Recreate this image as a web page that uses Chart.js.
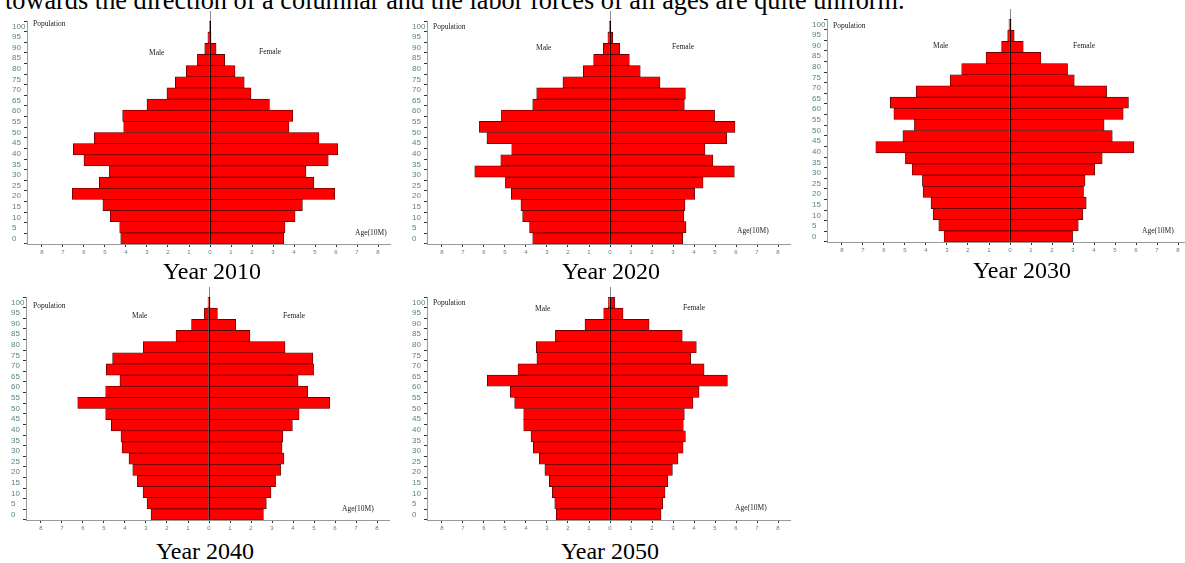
<!DOCTYPE html>
<html><head><meta charset="utf-8">
<script src="https://cdn.jsdelivr.net/npm/chart.js@4.4.1/dist/chart.umd.min.js"></script>
<style>
html,body{margin:0;padding:0;background:#fff;}
body{width:1185px;height:563px;position:relative;overflow:hidden;font-family:'Liberation Serif','Times New Roman',serif;}
.topline{position:absolute;left:5px;top:-12px;font-size:26.3px;white-space:nowrap;color:#000;line-height:26px;}
.panel{position:absolute;width:395px;height:262px;}
.panel canvas{position:absolute;left:0;top:0;}
.ann{position:absolute;font-size:7.5px;color:#222;white-space:nowrap;line-height:8px;}
.cap{position:absolute;font-size:24px;white-space:nowrap;line-height:24px;transform:translateX(-50%);color:#000;}
</style></head>
<body>
<div class="topline">towards the direction of a columnar and the labor forces of all ages are quite uniform.</div>

<div class="panel" id="p1" style="left:0px;top:0px;"><canvas id="c1" width="395" height="262"></canvas></div>
<div class="panel" id="p2" style="left:400px;top:0px;"><canvas id="c2" width="395" height="262"></canvas></div>
<div class="panel" id="p3" style="left:800px;top:-2px;"><canvas id="c3" width="395" height="262"></canvas></div>
<div class="panel" id="p4" style="left:-1px;top:276px;"><canvas id="c4" width="395" height="262"></canvas></div>
<div class="panel" id="p5" style="left:400px;top:276px;"><canvas id="c5" width="395" height="262"></canvas></div>

<span class="ann" style="left:33px;top:20px;">Population</span>
<span class="ann" style="left:149px;top:49px;">Male</span>
<span class="ann" style="left:259px;top:48px;">Female</span>
<span class="ann" style="left:355px;top:229px;">Age(10M)</span>

<span class="ann" style="left:433px;top:23px;">Population</span>
<span class="ann" style="left:536px;top:44px;">Male</span>
<span class="ann" style="left:672px;top:43px;">Female</span>
<span class="ann" style="left:737px;top:227px;">Age(10M)</span>

<span class="ann" style="left:833px;top:22px;">Population</span>
<span class="ann" style="left:933px;top:42px;">Male</span>
<span class="ann" style="left:1073px;top:42px;">Female</span>
<span class="ann" style="left:1142px;top:227px;">Age(10M)</span>

<span class="ann" style="left:33px;top:302px;">Population</span>
<span class="ann" style="left:132px;top:312px;">Male</span>
<span class="ann" style="left:283px;top:312px;">Female</span>
<span class="ann" style="left:342px;top:505px;">Age(10M)</span>

<span class="ann" style="left:433px;top:299px;">Population</span>
<span class="ann" style="left:535px;top:305px;">Male</span>
<span class="ann" style="left:683px;top:304px;">Female</span>
<span class="ann" style="left:735px;top:504px;">Age(10M)</span>

<div class="cap" style="left:212px;top:259px;">Year 2010</div>
<div class="cap" style="left:611px;top:259px;">Year 2020</div>
<div class="cap" style="left:1022px;top:258px;">Year 2030</div>
<div class="cap" style="left:205px;top:539px;">Year 2040</div>
<div class="cap" style="left:610px;top:539px;">Year 2050</div>

<script>
// Age groups, from youngest (bottom) to oldest (top)
const ageGroups = ['0-4','5-9','10-14','15-19','20-24','25-29','30-34','35-39','40-44','45-49',
                   '50-54','55-59','60-64','65-69','70-74','75-79','80-84','85-89','90-94','95-99'];

// Population in units of 10 million
const male2010   = [4.25,4.30,4.75,5.10,6.56,5.27,4.79,6.00,6.51,5.51,4.11,4.16,3.00,2.05,1.65,1.13,0.60,0.25,0.10,0.03];
const female2010 = [3.51,3.57,4.05,4.40,5.94,4.95,4.57,5.63,6.08,5.19,3.76,3.94,2.83,1.95,1.63,1.19,0.70,0.29,0.05,0.03];

const male2020   = [3.68,3.83,4.16,4.24,4.70,4.98,6.44,5.20,4.68,5.86,6.22,5.17,3.68,3.49,2.24,1.27,0.78,0.32,0.10,0.04];
const female2020 = [3.46,3.62,3.52,3.57,4.03,4.43,5.92,4.90,4.52,5.56,5.95,4.98,3.54,3.59,2.38,1.44,0.92,0.46,0.13,0.04];

const male2030   = [3.14,3.39,3.66,3.76,4.14,4.17,4.66,4.98,6.39,5.10,4.55,5.53,5.70,4.47,2.85,2.30,1.14,0.40,0.11,0.05];
const female2030 = [2.98,3.25,3.47,3.63,3.50,3.57,4.03,4.39,5.90,4.87,4.48,5.39,5.64,4.60,3.06,2.74,1.47,0.63,0.20,0.05];

const male2040   = [2.76,2.95,3.14,3.41,3.63,3.81,4.14,4.19,4.65,4.92,6.25,4.92,4.24,4.89,4.59,3.13,1.57,0.83,0.22,0.05];
const female2040 = [2.59,2.73,2.95,3.17,3.41,3.57,3.48,3.51,3.97,4.29,5.75,4.70,4.24,4.98,4.94,3.62,1.95,1.27,0.40,0.05];

const male2050   = [2.56,2.63,2.75,2.89,3.10,3.37,3.65,3.76,4.11,4.11,4.54,4.75,5.84,4.38,3.48,3.51,2.60,1.19,0.30,0.08];
const female2050 = [2.43,2.51,2.62,2.75,2.97,3.24,3.48,3.59,3.49,3.54,3.95,4.24,5.59,4.48,3.84,4.11,3.44,1.86,0.62,0.22];

// Tick labels
const xTickValues = [-8,-7,-6,-5,-4,-3,-2,-1,0,1,2,3,4,5,6,7,8];
const ageTickMin = 0, ageTickMax = 100, ageTickStep = 5;

const tickColor = '#5a8389';
const barStyle = {
  backgroundColor: '#ff0000',
  borderColor: '#3a0000',
  borderWidth: 0.7,
  borderSkipped: false,
  barPercentage: 1,
  categoryPercentage: 1
};

const zeroLine = {
  id: 'zeroLine',
  afterDatasetsDraw(chart) {
    const {ctx, chartArea: a, scales} = chart;
    const x = Math.round(scales.x.getPixelForValue(0)) + 0.5;
    ctx.save();
    ctx.lineWidth = 1;
    ctx.strokeStyle = '#8a8a8a';
    ctx.beginPath(); ctx.moveTo(x, a.top - 10); ctx.lineTo(x, a.top); ctx.stroke();
    ctx.strokeStyle = '#1a0000';
    ctx.beginPath(); ctx.moveTo(x, a.top); ctx.lineTo(x, a.bottom); ctx.stroke();
    ctx.restore();
  }
};

function makePyramid(canvasId, male, female) {
  new Chart(document.getElementById(canvasId), {
    type: 'bar',
    data: {
      labels: ageGroups,
      datasets: [
        Object.assign({ label: 'Male', data: male.map(v => -v) }, barStyle),
        Object.assign({ label: 'Female', data: female }, barStyle)
      ]
    },
    options: {
      responsive: false,
      animation: false,
      indexAxis: 'y',
      events: [],
      layout: { padding: { left: 12, top: 21, right: 5, bottom: 0 } },
      plugins: { legend: { display: false }, tooltip: { enabled: false }, title: { display: false } },
      scales: {
        x: {
          type: 'linear',
          stacked: true,
          min: -8.714, max: 8.571,
          afterBuildTicks: s => { s.ticks = xTickValues.map(v => ({ value: v })); },
          afterFit: s => { s.height = 18; },
          grid: { drawOnChartArea: false, drawTicks: true, tickLength: 3, tickColor: '#333', tickWidth: 1 },
          border: { display: true, color: '#9a9a9a', width: 1 },
          ticks: {
            autoSkip: false, maxRotation: 0, padding: 2, color: tickColor,
            font: { family: 'Liberation Sans', size: 6 },
            callback: v => String(Math.abs(v))
          }
        },
        y: {
          type: 'category',
          stacked: true,
          reverse: true,
          display: false
        },
        yt: {
          type: 'linear',
          position: 'left',
          min: ageTickMin, max: ageTickMax,
          afterFit: s => { s.width = 15; },
          grid: { drawOnChartArea: false, drawTicks: true, tickLength: 3, tickColor: '#333', tickWidth: 1 },
          border: { display: true, color: '#9a9a9a', width: 1 },
          ticks: {
            stepSize: ageTickStep, autoSkip: false, padding: 2, color: tickColor,
            crossAlign: 'far',
            font: { family: 'Liberation Sans', size: 8 }
          }
        }
      }
    },
    plugins: [zeroLine]
  });
}

makePyramid('c1', male2010, female2010);
makePyramid('c2', male2020, female2020);
makePyramid('c3', male2030, female2030);
makePyramid('c4', male2040, female2040);
makePyramid('c5', male2050, female2050);
</script>
</body></html>
